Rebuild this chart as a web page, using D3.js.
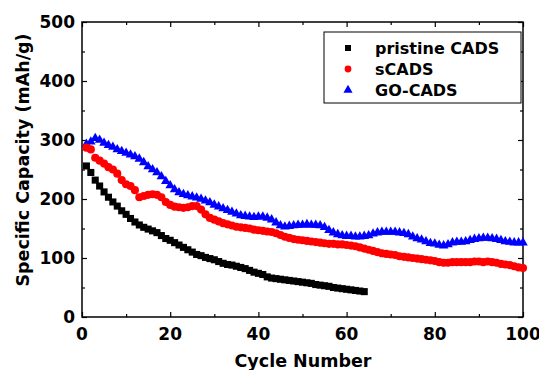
<!DOCTYPE html>
<html lang="en">
<head>
<meta charset="UTF-8">
<title>Specific Capacity vs Cycle Number</title>
<script src="https://d3js.org/d3.v7.min.js"></script>
<style>
  body { margin: 0; background: #fff; }
  svg text { font-family: "DejaVu Sans", Arial, sans-serif; font-weight: bold; fill: #000; }
  .frame { fill: none; stroke: #000; stroke-width: 1.5px; }
  .tick line { stroke: #000; stroke-width: 1.2px; }
</style>
</head>
<body>
<svg width="539" height="370"></svg>
<script>
// cycle capacities (mAh/g)
const pristine = [256,245,232,222,212,203,195,188,180,174,167,161,156,152,149,146,143,138,133,130,
  126,122,118,114,110,106,104,101,99,97,94,91,89,88,86,84,82,79,76,74,
  72,68,66,65,64,63,62,61,60,59,58,57,55,54,53,52,50,49,48,47,
  46,45,44,43];
const sCads = [287,284,270,265,260,254,250,243,232,225,222,215,203,205,207,208,207,203,195,190,
  187,186,185,186,188,188,182,174,168,165,162,159,157,155,153,152,151,150,148,147,
  146,145,144,142,139,136,134,132,131,130,129,128,127,126,125,124,124,123,123,122,
  121,120,118,116,114,112,110,108,107,106,105,103,102,101,100,99,98,97,96,95,
  93,92,92,93,93,93,93,93,94,94,93,94,93,92,90,89,88,86,84,83];
const goCads = [293,297,303,300,295,291,288,284,281,278,275,272,268,262,255,250,245,238,230,223,
  216,211,208,206,204,202,200,197,194,190,187,184,181,178,175,172,171,170,169,170,
  170,168,165,160,155,153,154,155,156,156,157,156,156,155,152,147,143,140,138,137,
  137,136,136,137,138,141,143,144,144,144,144,143,142,140,136,133,131,128,125,124,
  122,121,123,126,127,127,128,130,132,133,134,134,133,132,130,128,127,126,126,126];
const seriesNames = ["pristine CADS", "sCADS", "GO-CADS"];
const xTicks = [0, 20, 40, 60, 80, 100];
const yTicks = [0, 100, 200, 300, 400, 500];

const svg = d3.select("svg");
const plotL = 82, plotR = 523, plotT = 22, plotB = 317;

const x = d3.scaleLinear().domain([0, 100]).range([plotL, plotR]);
const y = d3.scaleLinear().domain([0, 500]).range([plotB, plotT]);

const toPts = arr => arr.map((v, i) => ({ c: i + 1, v: v }));

// tick marks, pointing inward on all four sides
const minorX = d3.range(0, 101, 10), minorY = d3.range(0, 501, 50);
function ticks(axis, pos, vals, major) {
  const g = svg.append("g").attr("transform", pos).call(axis.tickValues(vals).tickSize(major ? 5 : 3).tickFormat(""));
  g.select(".domain").remove();
}
ticks(d3.axisTop(x), `translate(0,${plotB})`, minorX.filter(d => d % 20), false);
ticks(d3.axisTop(x), `translate(0,${plotB})`, xTicks, true);
ticks(d3.axisBottom(x), `translate(0,${plotT})`, minorX.filter(d => d % 20), false);
ticks(d3.axisBottom(x), `translate(0,${plotT})`, xTicks, true);
ticks(d3.axisRight(y), `translate(${plotL},0)`, minorY.filter(d => d % 100), false);
ticks(d3.axisRight(y), `translate(${plotL},0)`, yTicks, true);
ticks(d3.axisLeft(y), `translate(${plotR},0)`, minorY.filter(d => d % 100), false);
ticks(d3.axisLeft(y), `translate(${plotR},0)`, yTicks, true);

svg.append("rect").attr("class", "frame")
  .attr("x", plotL).attr("y", plotT).attr("width", plotR - plotL).attr("height", plotB - plotT);

// tick labels
svg.append("g").selectAll("text").data(xTicks).join("text")
  .attr("x", d => x(d)).attr("y", 340).attr("text-anchor", "middle")
  .attr("font-size", 17).text(d => d);
svg.append("g").selectAll("text").data(yTicks).join("text")
  .attr("x", 75).attr("y", d => y(d) + 6).attr("text-anchor", "end")
  .attr("font-size", 17).text(d => d);

// axis titles
svg.append("text").attr("x", 303).attr("y", 367).attr("text-anchor", "middle")
  .attr("font-size", 17.5).text("Cycle Number");
svg.append("text").attr("transform", "translate(29,160) rotate(-90)")
  .attr("text-anchor", "middle").attr("font-size", 17.5).text("Specific Capacity (mAh/g)");

// markers
const sq = d3.symbol().type(d3.symbolSquare).size(50);
const ci = d3.symbol().type(d3.symbolCircle).size(52);
const tri = d3.symbol().type(d3.symbolTriangle).size(40);

svg.append("g").selectAll("path").data(toPts(goCads)).join("path")
  .attr("transform", d => `translate(${x(d.c)},${y(d.v)})`).attr("d", tri).attr("fill", "#0000ff");
svg.append("g").selectAll("path").data(toPts(sCads)).join("path")
  .attr("transform", d => `translate(${x(d.c)},${y(d.v)})`).attr("d", ci).attr("fill", "#ff0000");
svg.append("g").selectAll("path").data(toPts(pristine)).join("path")
  .attr("transform", d => `translate(${x(d.c)},${y(d.v)})`).attr("d", sq).attr("fill", "#000");

// legend
const lg = svg.append("g");
lg.append("rect").attr("x", 324).attr("y", 32).attr("width", 197).attr("height", 71)
  .attr("fill", "#fff").attr("stroke", "#000").attr("stroke-width", 1);
const legendTypes = [d3.symbolSquare, d3.symbolCircle, d3.symbolTriangle];
const legendCols = ["#000", "#ff0000", "#0000ff"];
seriesNames.forEach((name, i) => {
  const yy = 48 + i * 21;
  lg.append("path").attr("transform", `translate(348,${yy})`)
    .attr("d", d3.symbol().type(legendTypes[i]).size(36))
    .attr("fill", legendCols[i]);
  lg.append("text").attr("x", 375).attr("y", yy + 6).attr("font-size", 16).text(name);
});
</script>
</body>
</html>
